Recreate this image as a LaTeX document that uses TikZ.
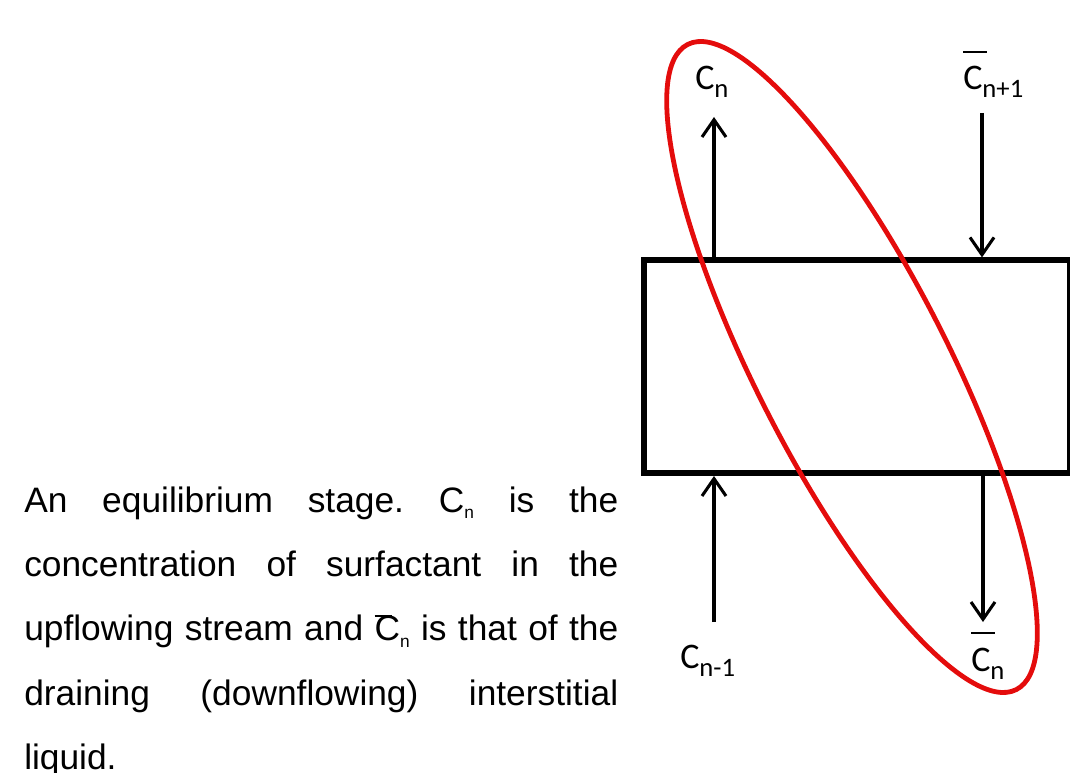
\documentclass[tikz,border=0pt]{standalone}
\usepackage{fontspec}
\setmainfont{Liberation Sans}
\newfontfamily\labelfont{Carlito}
\usetikzlibrary{arrows.meta}
\definecolor{ringred}{RGB}{228,12,12}
\newcommand{\cbar}{\makebox[0pt][l]{\rule[28pt]{18pt}{1.4pt}}C}
\newcommand{\tbar}{\makebox[0pt][l]{\rule[17.5pt]{13pt}{1.6pt}}C}
\newcommand{\lsub}[1]{\raisebox{-6pt}{\fontsize{20}{20}\selectfont #1}}
\newcommand{\tsub}[1]{\raisebox{-5pt}{\fontsize{13}{13}\selectfont #1}}

\begin{document}
\begin{tikzpicture}[x=0.75pt,y=-0.75pt,
  stagebox/.style={draw=black,line width=4.5pt,minimum width=319.5pt,
    minimum height=159.4pt,inner sep=0pt},
  flow/.style={line width=2.3pt,-{Straight Barb[length=13pt,width=18pt]}},
  conc/.style={font=\labelfont\fontsize{27}{27}\selectfont,inner sep=0pt,
    anchor=base west},
  ring/.style={draw=ringred,line width=3.6pt},
  caption/.style={font=\fontsize{26.5}{48.3}\selectfont,text width=445.5pt,
    align=justify,inner sep=0pt,anchor=base west}
]
\useasboundingbox (0,0) rectangle (1070,773);
\node[stagebox] (stage) at (856.5,366.7) {};
\node[conc] (cup) at (695,90) {C\lsub{n}};
\node[conc] (cdownin) at (963,90) {\cbar\lsub{n+1}};
\node[conc] (cupin) at (680,668) {C\lsub{n-1}};
\node[conc] (cdown) at (971,671) {\cbar\lsub{n}};
\coordinate (outtop) at (714,117);
\coordinate (intop) at (982,113);
\coordinate (inbot) at (714,622);
\coordinate (outbot) at (983,622);
\draw[flow] (stage.north -| outtop) -- (outtop);
\draw[flow] (intop) -- (stage.north -| intop);
\draw[flow] (inbot) -- (stage.south -| inbot);
\draw[flow] (stage.south -| outbot) -- (outbot);
\node[caption] (note) at (24,512) {\hyphenpenalty=10000\frenchspacing
  An equilibrium stage. C\tsub{n} is the\linebreak
  concentration of surfactant in the\linebreak
  upflowing stream and \tbar\tsub{n} is that of the\linebreak
  draining (downflowing) interstitial\linebreak
  liquid.};
\draw[ring,rotate around={-63:(852,367)}] (852,367) ellipse [x radius=362,y radius=96];
\end{tikzpicture}
\end{document}
